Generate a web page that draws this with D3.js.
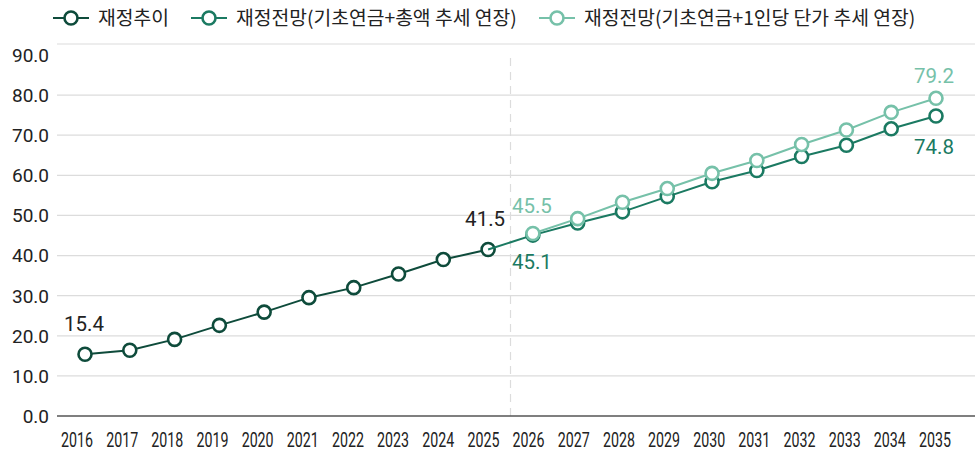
<!DOCTYPE html>
<html><head><meta charset="utf-8">
<script src="https://cdn.jsdelivr.net/npm/d3@7"></script>
<style>body{margin:0;background:#fff}svg{display:block}</style>
</head><body>
<svg id="c" width="975" height="451"></svg>
<script>
const years = ["2016","2017","2018","2019","2020","2021","2022","2023","2024","2025","2026","2027","2028","2029","2030","2031","2032","2033","2034","2035"];
const histYears = years.slice(0,10);
const projYears = years.slice(10);
const histValues = [15.4,16.4,19.1,22.6,25.9,29.5,32.0,35.4,39.0,41.5];
const totalValues = [45.1,48.1,50.9,54.7,58.4,61.2,64.7,67.5,71.6,74.8];
const perCapValues = [45.5,49.2,53.3,56.7,60.5,63.7,67.7,71.3,75.7,79.2];
const yTicks = [0,10,20,30,40,50,60,70,80,90];
const seriesNames = ["재정추이","재정전망(기초연금+총액 추세 연장)","재정전망(기초연금+1인당 단가 추세 연장)"];
const colors = ["#0e4b3b","#1b7a62","#76c1a9"];

const svg = d3.select("#c");
const kfont = "'Noto Sans CJK KR','Noto Sans',sans-serif";
const nfont = "Roboto,'Noto Sans',sans-serif";
const x = d3.scalePoint().domain(years).range([85,936]);
const xl = d3.scalePoint().domain(years).range([77,935]);
const y = d3.scaleLinear().domain([0,90]).range([416,55]);
const left = 57, right = 975;

// top frame line
svg.append("line").attr("x1",left).attr("x2",right).attr("y1",44).attr("y2",44).attr("stroke","#dcdcdc").attr("stroke-width",1.2);
// gridlines
svg.append("g").selectAll("line").data(yTicks.filter(d=>d>0&&d<90)).join("line")
  .attr("x1",left).attr("x2",right).attr("y1",d=>y(d)).attr("y2",d=>y(d))
  .attr("stroke","#dcdcdc").attr("stroke-width",1.2);
// y labels
svg.append("g").selectAll("text").data(yTicks).join("text")
  .attr("x",49).attr("y",d=>y(d)).attr("dy","0.36em").attr("text-anchor","end")
  .attr("font-family",nfont).attr("font-size",19).attr("fill","#222").text(d=>d.toFixed(1));
// dashed divider
const divX = (x("2025")+x("2026"))/2;
svg.append("line").attr("x1",divX).attr("x2",divX).attr("y1",58).attr("y2",416)
  .attr("stroke","#dcdcdc").attr("stroke-width",1.2).attr("stroke-dasharray","8,6");
// x axis
svg.append("line").attr("x1",left).attr("x2",right).attr("y1",y(0)).attr("y2",y(0)).attr("stroke","#555").attr("stroke-width",1.3);
svg.append("g").selectAll("text").data(years).join("text")
  .attr("x",d=>xl(d)).attr("y",440).attr("dy","0.36em").attr("text-anchor","middle")
  .attr("font-family",nfont).attr("font-size",19.5).attr("fill","#222")
  .attr("textLength",32).attr("lengthAdjust","spacingAndGlyphs").text(d=>d);

const line = d3.line().x(d=>x(d[0])).y(d=>y(d[1]));
const hist = histYears.map((d,i)=>[d,histValues[i]]);
const tot = projYears.map((d,i)=>[d,totalValues[i]]);
const per = projYears.map((d,i)=>[d,perCapValues[i]]);
const last = hist[hist.length-1];

function drawSeries(pts, linePts, color){
  svg.append("path").datum(linePts).attr("d",line).attr("fill","none").attr("stroke",color).attr("stroke-width",2);
  svg.append("g").selectAll("circle").data(pts).join("circle")
    .attr("cx",d=>x(d[0])).attr("cy",d=>y(d[1])).attr("r",6.5)
    .attr("fill","#fff").attr("stroke",color).attr("stroke-width",2.6);
}
drawSeries(hist, hist, colors[0]);
drawSeries(tot, [last].concat(tot), colors[1]);
drawSeries(per, per, colors[2]);

// data labels
function lbl(tx, ty, txt, color, anchor){
  svg.append("text").attr("x",tx).attr("y",ty).attr("dy","0.36em").attr("text-anchor",anchor||"start")
    .attr("font-family",nfont).attr("font-size",20.5).attr("fill",color).text(txt);
}
lbl(x("2016")-21, y(histValues[0])-31, histValues[0].toFixed(1), "#222");
lbl(x("2025")+17, y(histValues[9])-31, histValues[9].toFixed(1), "#222", "end");
lbl(x("2026")-21, y(perCapValues[0])-28, perCapValues[0].toFixed(1), colors[2]);
lbl(x("2026")-21, y(totalValues[0])+27, totalValues[0].toFixed(1), colors[1]);
lbl(x("2035")-22, y(perCapValues[9])-23, perCapValues[9].toFixed(1), colors[2]);
lbl(x("2035")-22, y(totalValues[9])+31, totalValues[9].toFixed(1), colors[1]);

// legend
const legX = [53, 191, 539];
seriesNames.forEach((n,i)=>{
  const g = svg.append("g").attr("transform",`translate(${legX[i]},18)`);
  g.append("line").attr("x1",0).attr("x2",36).attr("stroke",colors[i]).attr("stroke-width",2);
  g.append("circle").attr("cx",18).attr("r",6.5).attr("fill","#fff").attr("stroke",colors[i]).attr("stroke-width",2.6);
  g.append("text").attr("x",45).attr("dy","0.36em").attr("font-family",kfont).attr("font-size",19.3).attr("fill","#222").text(n);
});
</script>
</body></html>
